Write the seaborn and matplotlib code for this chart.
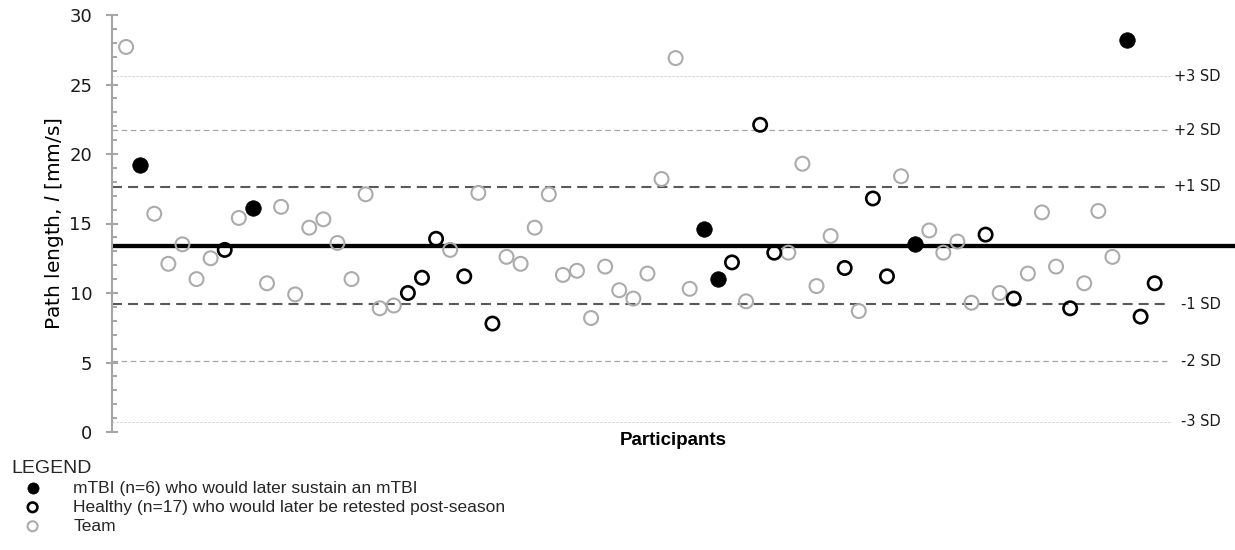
import matplotlib
matplotlib.use("Agg")
import matplotlib.pyplot as plt
from matplotlib.ticker import MultipleLocator
import numpy as np
import pandas as pd
import seaborn as sns

# Path length per participant, in testing order
path_length = [
    27.7, 19.2, 15.7, 12.1, 13.5, 11.0, 12.5, 13.1, 15.4, 16.1,
    10.7, 16.2, 9.9, 14.7, 15.3, 13.6, 11.0, 17.1, 8.9, 9.1,
    10.0, 11.1, 13.9, 13.1, 11.2, 17.2, 7.8, 12.6, 12.1, 14.7,
    17.1, 11.3, 11.6, 8.2, 11.9, 10.2, 9.6, 11.4, 18.2, 26.9,
    10.3, 14.6, 11.0, 12.2, 9.4, 22.1, 12.9, 12.9, 19.3, 10.5,
    14.1, 11.8, 8.7, 16.8, 11.2, 18.4, 13.5, 14.5, 12.9, 13.7,
    9.3, 14.2, 10.0, 9.6, 11.4, 15.8, 11.9, 8.9, 10.7, 15.9,
    12.6, 28.2, 8.3, 10.7,
]

# M = later sustained an mTBI, H = healthy, retested post-season, T = rest of team
group_code = [
    "T", "M", "T", "T", "T", "T", "T", "H", "T", "M",
    "T", "T", "T", "T", "T", "T", "T", "T", "T", "T",
    "H", "H", "H", "T", "H", "T", "H", "T", "T", "T",
    "T", "T", "T", "T", "T", "T", "T", "T", "T", "T",
    "T", "M", "M", "H", "T", "H", "H", "T", "T", "T",
    "T", "H", "T", "H", "H", "T", "M", "T", "T", "T",
    "T", "H", "T", "H", "T", "T", "T", "H", "T", "T",
    "T", "M", "H", "H",
]

group_labels = {
    "M": "mTBI (n=6) who would later sustain an mTBI",
    "H": "Healthy (n=17) who would later be retested post-season",
    "T": "Team",
}

team_mean = 13.4
sd_levels = [25.6, 21.7, 17.65, 9.2, 5.1, 0.75]
sd_labels = ["+3 SD", "+2 SD", "+1 SD", "-1 SD", "-2 SD", "-3 SD"]

y_ticks = [0, 5, 10, 15, 20, 25, 30]

df = pd.DataFrame({
    "participant": np.arange(1, len(path_length) + 1),
    "path_length": path_length,
    "group": group_code,
})

sns.set_theme(style="white")
plt.rcParams["font.family"] = ["DejaVu Sans"]
plt.rcParams["mathtext.fontset"] = "dejavusans"

fig = plt.figure(figsize=(12.35, 5.5), dpi=100)
ax = fig.add_axes([112 / 1235, 118 / 550, (1235 - 112) / 1235, 417 / 550])

AXIS_GREY = "#a6a6a6"
TEAM_GREY = "#ababab"
NARROW = ["Liberation Sans", "DejaVu Sans"]

# Reference lines: mean and +/- 1, 2, 3 SD
sd_styles = {
    "+3 SD": dict(color="#cfcfcf", lw=0.8, ls=(0, (1.8, 1.8))),
    "-3 SD": dict(color="#cfcfcf", lw=0.8, ls=(0, (1.8, 1.8))),
    "+2 SD": dict(color="#a6a6a6", lw=0.9, ls=(0, (4.5, 2.8))),
    "-2 SD": dict(color="#a6a6a6", lw=0.9, ls=(0, (4.5, 2.8))),
    "+1 SD": dict(color="#595959", lw=1.5, ls=(0, (4.8, 2.9))),
    "-1 SD": dict(color="#595959", lw=1.5, ls=(0, (4.8, 2.9))),
}
sd_end = 75.1
for level, lab in zip(sd_levels, sd_labels):
    st = sd_styles[lab]
    ax.hlines(level, 0, sd_end, colors=st["color"], linewidth=st["lw"],
              linestyles=[st["ls"]], zorder=1)
    ax.text(0.9875, level, lab, transform=ax.get_yaxis_transform(),
            ha="right", va="center", fontsize=10.5, color="#1a1a1a")

ax.axhline(team_mean, color="black", lw=3.1, zorder=2)

# Participant markers, drawn back to front: team, healthy, mTBI
sns.scatterplot(data=df[df["group"] == "T"], x="participant", y="path_length",
                ax=ax, marker="o", s=100, facecolors="none",
                edgecolor=TEAM_GREY, linewidth=1.5, zorder=3,
                label=group_labels["T"])
sns.scatterplot(data=df[df["group"] == "H"], x="participant", y="path_length",
                ax=ax, marker="o", s=92, facecolors="none",
                edgecolor="black", linewidth=1.9, zorder=4,
                label=group_labels["H"])
sns.scatterplot(data=df[df["group"] == "M"], x="participant", y="path_length",
                ax=ax, marker="o", s=125, color="black",
                edgecolor="black", linewidth=0.5, zorder=5,
                label=group_labels["M"])

ax.set_xlim(0, 79.7)
ax.set_ylim(0, 30)
ax.set_yticks(y_ticks)
ax.yaxis.set_minor_locator(MultipleLocator(1))
ax.set_xticks([])

for side in ["top", "right", "bottom"]:
    ax.spines[side].set_visible(False)
ax.spines["left"].set_color(AXIS_GREY)
ax.spines["left"].set_linewidth(1.5)

ax.tick_params(axis="y", which="major", direction="inout", length=8.5,
               width=1.5, color=AXIS_GREY, labelsize=13, labelcolor="#1a1a1a",
               pad=10, left=True)
ax.tick_params(axis="y", which="minor", direction="in", length=3.5,
               width=1.5, color=AXIS_GREY, left=True)

ax.set_ylabel("Path length, $\\mathit{l}$ [mm/s]", fontsize=14.5,
              color="black", labelpad=2)
ax.set_xlabel("Participants", fontsize=13.5, fontweight="bold",
              color="black", labelpad=0, family=NARROW)

# Legend below the plot, entries in mTBI / healthy / team order
handles, labels = ax.get_legend_handles_labels()
order = [labels.index(group_labels[k]) for k in ["M", "H", "T"]]
ax.get_legend().remove()
leg = fig.legend([handles[i] for i in order], [labels[i] for i in order],
                 title="LEGEND", loc="upper left",
                 bbox_to_anchor=(-3 / 1235, 1 - 446 / 550),
                 frameon=False, prop={"family": NARROW, "size": 12.5},
                 markerscale=0.72, handlelength=2.5, handletextpad=1.1,
                 labelspacing=0.22, borderpad=0.3)
leg.get_title().set_fontfamily(NARROW)
leg.get_title().set_fontsize(14)
leg._legend_box.align = "left"

fig.savefig("out.png", dpi=100)
